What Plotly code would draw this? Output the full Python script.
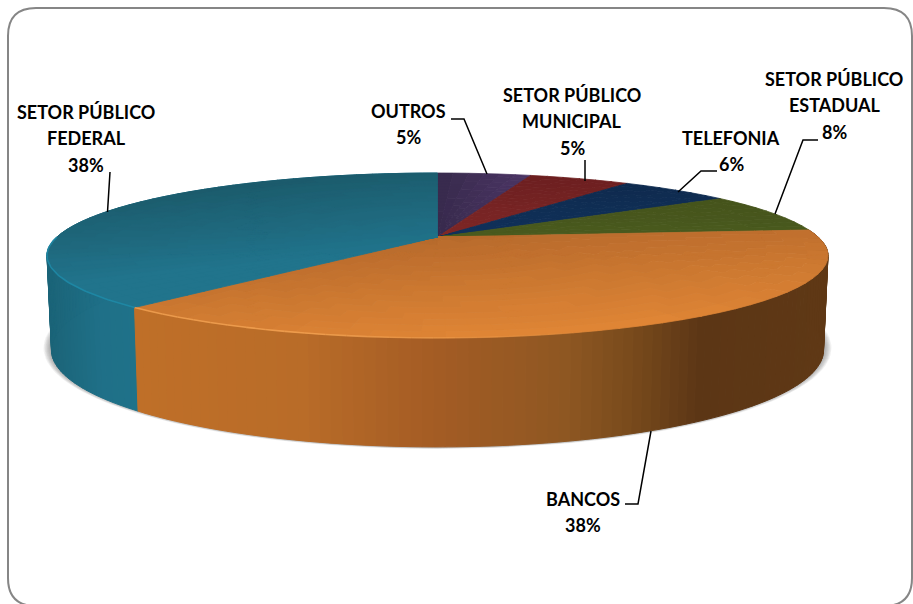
import numpy as np
import plotly.graph_objects as go

# ---- data ----
categories = ["OUTROS", "SETOR PÚBLICO MUNICIPAL", "TELEFONIA", "SETOR PÚBLICO ESTADUAL", "BANCOS", "SETOR PÚBLICO FEDERAL"]
values = [4.8, 5.2, 5.7, 7.8, 37.9, 38.4]
label_lines = [["OUTROS"], ["SETOR PÚBLICO", "MUNICIPAL"], ["TELEFONIA"], ["SETOR PÚBLICO", "ESTADUAL"], ["BANCOS"], ["SETOR PÚBLICO", "FEDERAL"]]

# ---- styles / layout ----
W, H = 913, 604
label_pos = [(408, 111), (572, 95), (731, 138), (834, 79), (583, 499), (86, 112)]
label_step = 26.3
leaders = [
    [(451, 119), (464, 119), (487, 174)],
    [(585, 160), (585, 181)],
    [(717, 171), (701, 171), (678, 192)],
    [(818, 140), (803, 140), (775, 214)],
    [(625, 504), (638, 504), (651, 431)],
    [(110, 172), (107.5, 212)],
]
top_cols = [("#382a4d", "#4b3564"), ("#6c1f20", "#7e2726"), ("#0e294b", "#10315b"),
            ("#414e19", "#4a5a1e"), ("#b0652a", "#df8535"), ("#1b5868", "#21748c")]
bancos_side = [(136, "#bf6f28"), (300, "#b96c28"), (433, "#a45c24"), (567, "#8e5722"),
               (633, "#784a1c"), (700, "#5c3615"), (830, "#5f3815")]
federal_side = [(47, "#1b6478"), (100, "#1f7088"), (140, "#1f7289")]

# projection of the pie disc (perspective view)
CX, AY = 437.5, 237.0
A, B, K = 380.6, 78.3, 0.224
ELL_CY, ELL_RX, ELL_RY = 255.5, 390.5, 82.5
BOT_CY, BOT_RX, BOT_RY = 350.0, 386.0, 97.0


def rgb(h):
    return np.array([int(h[i:i + 2], 16) for i in (1, 3, 5)], float)


def mix(c0, c1, s):
    s = float(np.clip(s, 0, 1))
    c = rgb(c0) * (1 - s) + rgb(c1) * s
    return "rgb(%d,%d,%d)" % tuple(np.round(c))


def stops(table, x):
    xs = [p[0] for p in table]
    cs = np.array([rgb(p[1]) for p in table])
    return "rgb(%d,%d,%d)" % tuple(np.round([np.interp(x, xs, cs[:, i]) for i in range(3)]))


def project(t, r=1.0):
    u, v = r * np.sin(t), r * np.cos(t)
    w = 1 + K * v
    return CX + A * u / w, AY - B * v / w


def lower(x, y):
    return CX + (x - CX) * BOT_RX / ELL_RX, BOT_CY + (y - ELL_CY) * BOT_RY / ELL_RY


def shade(i, x, y):
    if i == 4:
        return (y - 240) / 120 + (x - 136) * 0.0006
    if i == 5:
        return ((y - 190) + (x - 100) * 0.1) / 90
    if i == 0:
        return (x - 438) / 90
    return (y - 175) / 60


fig = go.Figure()


def poly(xs, ys, color, lw=0.7):
    fig.add_trace(go.Scatter(x=xs, y=ys, mode="lines", fill="toself", fillcolor=color,
                             line=dict(color=color, width=lw), hoverinfo="skip", showlegend=False))


vals = np.array(values, float)
edges = np.concatenate([[0], np.cumsum(vals / vals.sum())]) * 2 * np.pi

# soft shadow: shows mostly beside the lower corners of the wall
tt = np.linspace(0, 2 * np.pi, 181)
for g in range(8, 0, -1):
    poly(CX + (BOT_RX + g) * np.sin(tt), BOT_CY - 2 + (BOT_RY + 2 + g * 0.25) * np.cos(tt),
         "rgba(70,70,70,0.07)", 0)

# side wall: BANCOS and FEDERAL are the only visible slices
for i, table in ((5, federal_side), (4, bancos_side)):
    t0, t1 = edges[i], edges[i + 1]
    ts = np.linspace(t0, t1, 101)
    for a, b in zip(ts[:-1], ts[1:]):
        xa, ya = project(a)
        xb, yb = project(b)
        xc, yc = lower(xb, yb)
        xd, yd = lower(xa, ya)
        poly([xa, xb, xc, xd, xa], [ya, yb, yc, yd, ya], stops(table, (xa + xb) / 2), 1.0)

# top faces: cells grouped in colour bands
LEVELS = 18
for i in range(len(vals)):
    t0, t1 = edges[i], edges[i + 1]
    n_a = max(6, int((t1 - t0) / np.radians(3)))
    ts = np.linspace(t0, t1, n_a + 1)
    rs = np.linspace(0, 1, 21)
    bands = {}
    for a, b in zip(ts[:-1], ts[1:]):
        for r0, r1 in zip(rs[:-1], rs[1:]):
            corners = [project(a, r0), project(b, r0), project(b, r1), project(a, r1)]
            mx = np.mean([c[0] for c in corners])
            my = np.mean([c[1] for c in corners])
            lvl = int(round(np.clip(shade(i, mx, my), 0, 1) * (LEVELS - 1)))
            bands.setdefault(lvl, []).append(corners)
    for lvl in sorted(bands):
        xs, ys = [], []
        for cell in bands[lvl]:
            xs += [c[0] for c in cell] + [cell[0][0], None]
            ys += [c[1] for c in cell] + [cell[0][1], None]
        poly(xs, ys, mix(top_cols[i][0], top_cols[i][1], lvl / (LEVELS - 1)), 0.8)

# rim highlight along the front edge; the orange part fades out towards the right
fade = np.linspace(np.radians(160), edges[5], 25)
for k, (a, b) in enumerate(zip(fade[:-1], fade[1:])):
    ts = np.linspace(a, b, 5)
    px, py = project(ts)
    alpha = 0.75 * min(1.0, (k + 1) / 14)
    fig.add_trace(go.Scatter(x=px, y=py, mode="lines", line=dict(color=f"rgba(245,165,85,{alpha:.3f})", width=1.6),
                             hoverinfo="skip", showlegend=False))
ts = np.linspace(edges[5], np.radians(270), 60)
px, py = project(ts)
fig.add_trace(go.Scatter(x=px, y=py, mode="lines", line=dict(color="rgba(30,140,170,0.8)", width=1.6),
                         hoverinfo="skip", showlegend=False))

# leader lines
for pts in leaders:
    fig.add_trace(go.Scatter(x=[p[0] for p in pts], y=[p[1] for p in pts], mode="lines",
                             line=dict(color="#000000", width=1.5), hoverinfo="skip", showlegend=False))

# labels
annotations = []
for lines, v, (lx, ly) in zip(label_lines, values, label_pos):
    for j, txt in enumerate(lines + [f"{round(v)}%"]):
        annotations.append(dict(x=lx, y=ly + j * label_step, xref="x", yref="y", text=f"<b>{txt}</b>",
                                showarrow=False, xanchor="center", yanchor="middle",
                                font=dict(family="Lato", size=18, color="#000000")))

frame = ("M 8 36 Q 8 8 36 8 L 884 8 Q 912 8 912 36 L 912 578 Q 912 606 884 606 "
         "L 36 606 Q 8 606 8 578 Z")

fig.update_layout(
    width=W, height=H, margin=dict(l=0, r=0, t=0, b=0),
    paper_bgcolor="white", plot_bgcolor="white", showlegend=False,
    xaxis=dict(range=[0, W], visible=False, fixedrange=True),
    yaxis=dict(range=[H, 0], visible=False, fixedrange=True),
    annotations=annotations,
    shapes=[dict(type="path", path=frame, xref="x", yref="y", line=dict(color="#868686", width=2), layer="above")],
)

fig.write_html("out.html", config={"displayModeBar": False},
               post_script="document.body.style.margin='0';document.body.style.overflow='hidden';")
